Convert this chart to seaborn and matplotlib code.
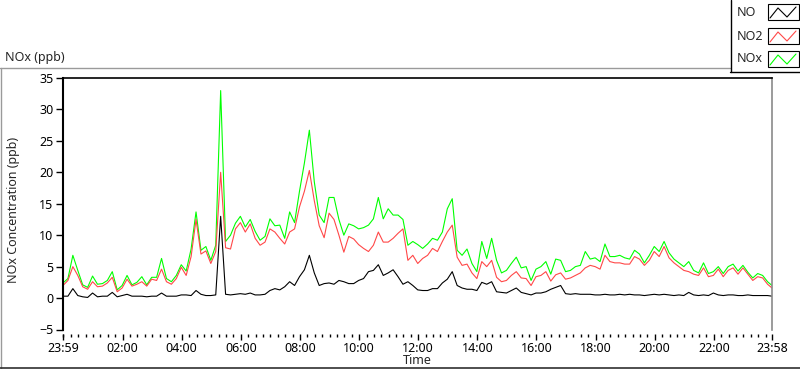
import pandas as pd
import matplotlib
matplotlib.use('Agg')
import matplotlib.pyplot as plt
import matplotlib.dates as mdates
from matplotlib.lines import Line2D
from matplotlib.patches import Rectangle
import seaborn as sns

# NO, NO2 and NOx (ppb), one reading every 10 minutes from 23:59, last one at 23:58
no2 = [2.0, 2.8, 5.0, 3.6, 1.8, 1.4, 2.6, 1.8, 1.9, 2.4,
       3.3, 1.0, 1.6, 3.0, 1.9, 2.2, 2.6, 1.9, 3.0, 2.8,
       4.6, 2.6, 2.2, 3.1, 4.9, 3.6, 6.6, 12.5, 7.0, 7.5,
       5.5, 7.4, 20.0, 8.0, 7.8, 11.0, 12.0, 10.5, 11.8, 9.5,
       8.4, 8.9, 11.0, 10.5, 9.5, 8.6, 10.5, 11.0, 14.5, 17.0,
       20.3, 15.5, 11.5, 9.6, 13.5, 12.5, 10.0, 7.3, 9.8, 9.4,
       8.5, 7.9, 7.4, 8.4, 10.5, 8.9, 8.9, 9.5, 10.3, 11.0,
       6.0, 6.8, 5.5, 6.3, 6.8, 7.9, 7.4, 9.0, 10.5, 11.6,
       6.5, 5.2, 5.4, 4.0, 3.1, 5.8, 5.0, 6.0, 3.3, 2.6,
       2.8, 3.6, 4.2, 3.2, 3.1, 2.0, 3.4, 3.6, 4.2, 2.7,
       3.7, 4.0, 3.0, 3.2, 3.6, 4.0, 4.8, 5.2, 5.0, 4.6,
       6.8, 5.8, 5.6, 5.6, 5.4, 5.4, 6.6, 6.2, 5.2, 6.0,
       7.4, 6.6, 8.2, 6.4, 5.6, 5.0, 4.4, 4.2, 3.8, 3.6,
       4.8, 3.4, 3.6, 4.6, 3.4, 4.4, 4.8, 3.8, 4.8, 3.8,
       2.8, 3.4, 3.2, 2.2, 1.6]
nox = [2.4, 3.1, 6.8, 4.4, 2.1, 1.7, 3.5, 2.2, 2.3, 2.8,
       4.2, 1.3, 2.0, 3.6, 2.1, 2.5, 3.4, 2.1, 3.3, 3.3,
       6.3, 3.1, 2.6, 3.6, 5.3, 4.3, 7.8, 13.7, 7.6, 8.2,
       6.0, 8.4, 33.0, 9.0, 10.0, 11.9, 13.0, 11.3, 12.5, 10.6,
       9.2, 9.8, 12.6, 11.5, 11.6, 9.5, 13.7, 12.0, 17.0, 21.5,
       26.7, 18.5, 13.2, 12.0, 16.0, 16.0, 12.5, 10.0, 11.8, 11.5,
       11.0, 11.2, 11.6, 12.6, 16.0, 12.6, 14.2, 13.2, 13.2, 12.5,
       8.4, 9.0, 8.5, 7.9, 8.6, 9.5, 9.2, 10.5, 14.2, 15.8,
       7.6, 6.8, 7.8, 5.5, 4.2, 9.0, 6.3, 9.5, 6.0, 4.0,
       4.4, 5.5, 6.5, 4.8, 5.0, 2.8, 4.6, 5.0, 5.8, 3.8,
       6.2, 6.0, 4.2, 4.4, 5.0, 5.2, 7.4, 6.2, 6.4, 5.8,
       8.6, 6.6, 6.6, 6.8, 6.4, 6.2, 7.6, 7.0, 5.6, 6.8,
       8.2, 7.4, 9.0, 7.2, 6.2, 5.6, 5.0, 5.8, 4.4, 4.0,
       5.6, 3.9, 4.2, 5.0, 3.9, 5.0, 5.4, 4.3, 5.2, 4.1,
       3.2, 3.9, 3.6, 2.6, 2.0]
no = [0.3, 0.3, 1.5, 0.4, 0.2, 0.1, 0.8, 0.2, 0.3, 0.3,
      0.9, 0.2, 0.4, 0.6, 0.3, 0.3, 0.3, 0.2, 0.3, 0.3,
      0.8, 0.3, 0.3, 0.3, 0.5, 0.5, 0.4, 1.2, 0.6, 0.4,
      0.4, 0.5, 13.0, 0.6, 0.5, 0.6, 0.7, 0.6, 0.8, 0.5,
      0.5, 0.6, 1.2, 1.5, 1.3, 1.8, 2.6, 2.0, 3.4, 4.5,
      6.8, 4.0, 2.0, 2.3, 2.4, 2.2, 2.8, 2.6, 2.3, 2.3,
      2.8, 3.1, 4.2, 4.4, 5.3, 3.6, 4.0, 4.5, 3.4, 2.2,
      2.6, 2.0, 1.3, 1.2, 1.2, 1.5, 1.5, 2.4, 3.0, 4.2,
      2.0, 1.6, 1.4, 1.4, 1.2, 2.5, 2.2, 2.6, 1.0, 0.9,
      0.8, 1.2, 1.6, 0.9, 0.7, 0.5, 0.8, 0.8, 1.0, 1.4,
      1.7, 2.0, 0.7, 0.6, 0.7, 0.6, 0.6, 0.6, 0.5, 0.5,
      0.6, 0.5, 0.5, 0.6, 0.5, 0.6, 0.5, 0.5, 0.4, 0.5,
      0.6, 0.5, 0.6, 0.5, 0.4, 0.5, 0.4, 0.9, 0.5, 0.4,
      0.5, 0.4, 0.8, 0.5, 0.4, 0.5, 0.5, 0.4, 0.4, 0.5,
      0.4, 0.4, 0.4, 0.4, 0.3]

start = pd.Timestamp('2019-01-01 23:59')
end = pd.Timestamp('2019-01-02 23:58')
times = list(pd.date_range(start, periods=len(no) - 1, freq='10min')) + [end]

df = pd.DataFrame({'Time': times, 'NO': no, 'NO2': no2, 'NOx': nox})
df_long = df.melt(id_vars='Time', var_name='series', value_name='ppb')

colors = {'NO': 'black', 'NO2': '#ff4848', 'NOx': '#00ff00'}

sns.set_theme(style='white')
plt.rcParams['font.family'] = ['Noto Sans', 'DejaVu Sans']
fs = 9

W, H = 800, 369
fig = plt.figure(figsize=(8, 3.69), dpi=100)

# pixel -> figure fraction
def fx(x):
    return x / W

def fy(y):
    return 1 - y / H

def fig_line(xs, ys, color, lw=1.0):
    fig.add_artist(Line2D([fx(x) for x in xs], [fy(y) for y in ys],
                          color=color, lw=lw, transform=fig.transFigure))

ax = fig.add_axes([fx(63), fy(329.5), fx(772) - fx(63), fy(78) - fy(329.5)])
sns.lineplot(data=df_long, x='Time', y='ppb', hue='series',
             hue_order=['NOx', 'NO2', 'NO'], palette=colors,
             linewidth=0.8, legend=False, estimator=None, ax=ax)

ax.set_xlim(start, end)
ax.set_ylim(-5, 35)
ax.set_yticks(range(-5, 36, 5))
major = [start] + [pd.Timestamp(f'2019-01-02 {h:02d}:00') for h in range(2, 23, 2)] + [end]
ax.set_xticks(major)
ax.xaxis.set_major_formatter(mdates.DateFormatter('%H:%M'))
ax.xaxis.set_minor_locator(mdates.MinuteLocator(byminute=[0, 15, 30, 45]))
ax.set_xlabel('')
ax.set_ylabel('')

ax.tick_params(axis='both', which='both', bottom=True, left=True, colors='black',
               direction='out', labelsize=fs)
ax.tick_params(axis='x', which='major', length=4, width=1, pad=2)
ax.tick_params(axis='x', which='minor', length=2.5, width=1)
ax.tick_params(axis='y', which='major', length=5, width=1, pad=2)

ax.spines['top'].set_color('black')
ax.spines['top'].set_linewidth(1.2)
ax.spines['left'].set_color('black')
ax.spines['left'].set_linewidth(1.5)
ax.spines['right'].set_color('#8a8a8a')
ax.spines['right'].set_linewidth(1.2)
ax.spines['bottom'].set_position(('outward', 3))
ax.spines['bottom'].set_color('none')

# captions
fig.text(fx(5), fy(58), 'NOx (ppb)', fontsize=fs, va='center', ha='left')
fig.text(fx(14), fy(210), 'NOx Concentration (ppb)', fontsize=fs,
         rotation=90, va='center', ha='center')
fig.text(fx(417.5), fy(361), 'Time', fontsize=fs, va='center', ha='center')

# outer frame
fig_line([0, 730], [67.5, 67.5], '#9a9a9a')
fig_line([0.5, 0.5], [67.5, 369], '#9a9a9a')
fig_line([0, 800], [367.8, 367.8], '#303030', lw=1.2)

# legend box in the top right corner
fig.add_artist(Rectangle((fx(730), fy(72)), fx(800) - fx(730), fy(0) - fy(72),
                         facecolor='white', edgecolor='none', transform=fig.transFigure))
fig_line([730.5, 730.5], [0, 72], 'black')
fig_line([730, 800], [72, 72], 'black')
legend_rows = [('NO', 13, 4), ('NO2', 36, 28), ('NOx', 59, 51)]
for name, ty, by in legend_rows:
    fig.text(fx(737), fy(ty), name, fontsize=fs, va='center', ha='left')
    fig.add_artist(Rectangle((fx(768), fy(by + 16)), fx(799) - fx(768), fy(by) - fy(by + 16),
                             facecolor='white', edgecolor='black', lw=0.8,
                             transform=fig.transFigure))
    fig_line([770, 778, 787, 796], [by + 14, by + 4, by + 13, by + 3], colors[name], lw=0.8)

fig.savefig('out.png', dpi=100)
